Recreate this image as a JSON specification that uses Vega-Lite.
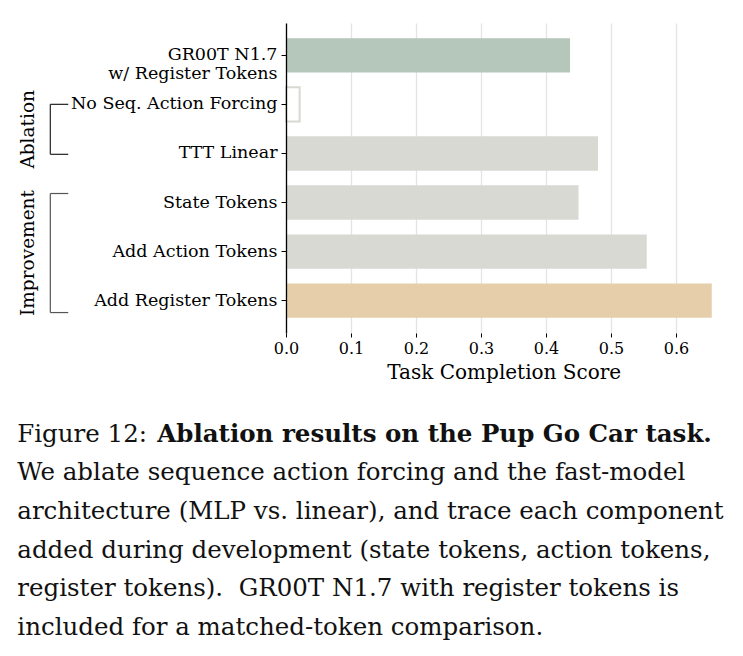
{
  "$schema": "https://vega.github.io/schema/vega-lite/v6.json",
  "width": 435.5,
  "height": 310,
  "autosize": {"type": "pad"},
  "padding": {"left": 17, "top": 23, "right": 4, "bottom": 8},
  "background": "white",
  "config": {"view": {"stroke": null}, "font": "DejaVu Serif"},
  "resolve": {"scale": {"y": "independent"}},
  "layer": [
    {
      "data": {"values": [
        {"label": "GR00T N1.7 w/ Register Tokens", "score": 0.437, "kind": "baseline"},
        {"label": "No Seq. Action Forcing", "score": 0.021, "kind": "failed"},
        {"label": "TTT Linear", "score": 0.48, "kind": "ablation"},
        {"label": "State Tokens", "score": 0.45, "kind": "ablation"},
        {"label": "Add Action Tokens", "score": 0.555, "kind": "ablation"},
        {"label": "Add Register Tokens", "score": 0.655, "kind": "final"}
      ]},
      "mark": {"type": "bar", "strokeWidth": 2},
      "encoding": {
        "y": {
          "field": "label", "type": "nominal", "sort": null,
          "scale": {"paddingInner": 0.3, "paddingOuter": 0.31},
          "axis": {
            "title": null, "zindex": 1, "grid": false,
            "domainColor": "#000000", "domainWidth": 1.3,
            "tickColor": "#000000", "tickSize": 5, "tickWidth": 1,
            "labelFont": "DejaVu Serif", "labelFontSize": 17.5, "labelColor": "#000000",
            "labelPadding": 4, "labelLimit": 0, "labelLineHeight": 19,
            "labelExpr": "datum.value == 'GR00T N1.7 w/ Register Tokens' ? ['GR00T N1.7\u00a0', 'w/ Register Tokens'] : datum.value"
          }
        },
        "x": {
          "field": "score", "type": "quantitative",
          "scale": {"domain": [0, 0.67], "nice": false},
          "axis": {
            "title": "Task Completion Score", "titleFont": "DejaVu Serif", "titleFontSize": 20,
            "titleFontWeight": "normal", "titleColor": "#000000", "titlePadding": 6,
            "values": [0, 0.1, 0.2, 0.3, 0.4, 0.5, 0.6], "format": ".1f", "labelFlush": false,
            "labelFont": "DejaVu Serif", "labelFontSize": 16, "labelColor": "#000000", "labelPadding": 3,
            "domain": false, "ticks": true, "tickColor": "#000000", "tickSize": 4, "tickWidth": 1,
            "grid": true, "gridColor": "#e4e4e4", "gridWidth": 1.3
          }
        },
        "fill": {
          "field": "kind", "type": "nominal", "legend": null,
          "scale": {"domain": ["baseline", "failed", "ablation", "final"], "range": ["#b5c6bb", "#ffffff", "#d8d9d3", "#e6ceab"]}
        },
        "stroke": {
          "field": "kind", "type": "nominal", "legend": null,
          "scale": {"domain": ["baseline", "failed", "ablation", "final"], "range": ["transparent", "#d8d9d3", "transparent", "transparent"]}
        }
      }
    },
    {
      "data": {"name": "brackets", "values": [
        {"group": "Ablation", "from": 1.0, "to": 2.02, "mid": 1.51},
        {"group": "Improvement", "from": 2.82, "to": 5.25, "mid": 4.035}
      ]},
      "mark": {"type": "rule", "strokeWidth": 1.2},
      "encoding": {
        "x": {"datum": -0.3626, "type": "quantitative", "scale": {"domain": [0, 0.67], "nice": false}},
        "y": {"field": "from", "type": "quantitative", "scale": {"domain": [-0.66, 5.667], "reverse": true, "nice": false, "zero": false}, "axis": null},
        "y2": {"field": "to"},
        "color": {"field": "group", "type": "nominal", "legend": null, "scale": {"domain": ["Ablation", "Improvement"], "range": ["#222222", "#555555"]}}
      }
    },
    {
      "data": {"name": "brackets"},
      "mark": {"type": "rule", "strokeWidth": 1.2},
      "encoding": {
        "x": {"datum": -0.3626, "type": "quantitative", "scale": {"domain": [0, 0.67], "nice": false}},
        "x2": {"datum": -0.335},
        "y": {"field": "from", "type": "quantitative", "scale": {"domain": [-0.66, 5.667], "reverse": true, "nice": false, "zero": false}, "axis": null},
        "color": {"field": "group", "type": "nominal", "legend": null, "scale": {"domain": ["Ablation", "Improvement"], "range": ["#222222", "#555555"]}}
      }
    },
    {
      "data": {"name": "brackets"},
      "mark": {"type": "rule", "strokeWidth": 1.2},
      "encoding": {
        "x": {"datum": -0.3626, "type": "quantitative", "scale": {"domain": [0, 0.67], "nice": false}},
        "x2": {"datum": -0.335},
        "y": {"field": "to", "type": "quantitative", "scale": {"domain": [-0.66, 5.667], "reverse": true, "nice": false, "zero": false}, "axis": null},
        "color": {"field": "group", "type": "nominal", "legend": null, "scale": {"domain": ["Ablation", "Improvement"], "range": ["#222222", "#555555"]}}
      }
    },
    {
      "data": {"name": "brackets"},
      "mark": {"type": "text", "angle": 270, "align": "center", "baseline": "middle", "font": "DejaVu Serif", "fontSize": 18.5, "color": "#000000"},
      "encoding": {
        "x": {"datum": -0.3965, "type": "quantitative", "scale": {"domain": [0, 0.67], "nice": false}},
        "y": {"field": "mid", "type": "quantitative", "scale": {"domain": [-0.66, 5.667], "reverse": true, "nice": false, "zero": false}, "axis": null},
        "text": {"field": "group"}
      }
    },
    {
      "data": {"name": "caption", "values": [
        {"line": 1, "part": "regular", "text": "Figure 12:"},
        {"line": 1, "part": "bold", "text": "Ablation results on the Pup Go Car task."},
        {"line": 2, "part": "regular", "text": "We ablate sequence action forcing and the fast-model"},
        {"line": 3, "part": "regular", "text": "architecture (MLP vs. linear), and trace each component"},
        {"line": 4, "part": "regular", "text": "added during development (state tokens, action tokens,"},
        {"line": 5, "part": "regular", "text": "register tokens).\u00a0 GR00T N1.7 with register tokens is"},
        {"line": 6, "part": "regular", "text": "included for a matched-token comparison."}
      ]},
      "transform": [{"filter": "datum.part == 'regular'"}],
      "mark": {"type": "text", "align": "left", "baseline": "alphabetic", "font": "DejaVu Serif", "fontSize": 24.5, "color": "#111111"},
      "encoding": {
        "x": {"datum": -0.4134, "type": "quantitative", "scale": {"domain": [0, 0.67], "nice": false}},
        "y": {"field": "line", "type": "quantitative", "scale": {"domain": [-9.847, -1.816], "reverse": true, "nice": false, "zero": false}, "axis": null},
        "text": {"field": "text"}
      }
    },
    {
      "data": {"name": "caption"},
      "transform": [{"filter": "datum.part == 'bold'"}],
      "mark": {"type": "text", "align": "left", "baseline": "alphabetic", "font": "DejaVu Serif", "fontSize": 24.5, "fontWeight": "bold", "color": "#111111", "dx": 140},
      "encoding": {
        "x": {"datum": -0.4134, "type": "quantitative", "scale": {"domain": [0, 0.67], "nice": false}},
        "y": {"field": "line", "type": "quantitative", "scale": {"domain": [-9.847, -1.816], "reverse": true, "nice": false, "zero": false}, "axis": null},
        "text": {"field": "text"}
      }
    }
  ]
}
